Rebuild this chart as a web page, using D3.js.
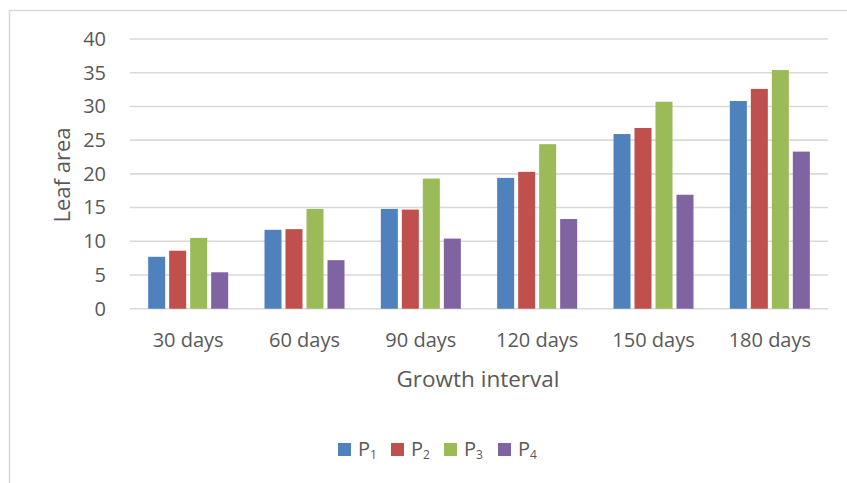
<!DOCTYPE html>
<html>
<head>
<meta charset="utf-8">
<script src="https://cdn.jsdelivr.net/npm/d3@7"></script>
<style>
  html, body { margin: 0; padding: 0; background: #fff; }
  svg { display: block; }
  text { font-family: "Open Sans", Lato, "Liberation Sans", sans-serif; fill: #595959; }
</style>
</head>
<body>
<svg id="chart" width="847" height="483"></svg>
<script>
const categories = ["30 days", "60 days", "90 days", "120 days", "150 days", "180 days"];
const seriesNames = ["1", "2", "3", "4"];
const P1 = [7.7, 11.7, 14.8, 19.4, 25.9, 30.8];
const P2 = [8.6, 11.8, 14.7, 20.3, 26.8, 32.6];
const P3 = [10.5, 14.8, 19.3, 24.4, 30.7, 35.4];
const P4 = [5.4, 7.2, 10.4, 13.3, 16.9, 23.3];
const yTicks = [0, 5, 10, 15, 20, 25, 30, 35, 40];
const colors = ["#4F81BD", "#C0504D", "#9BBB59", "#8064A2"];
const seriesValues = [P1, P2, P3, P4];

const svg = d3.select("#chart");

// outer chart border (top and left visible)
svg.append("path")
  .attr("d", "M9.5,483 L9.5,10.5 L847,10.5")
  .attr("fill", "none").attr("stroke", "#D9D9D9").attr("stroke-width", 1.5);

const plotLeft = 130, plotRight = 828, plotTop = 39, plotBottom = 308.7;

const y = d3.scaleLinear().domain([0, 40]).range([plotBottom, plotTop]);
const x0 = d3.scaleBand().domain(categories).range([plotLeft, plotRight]).paddingInner(0).paddingOuter(0);
const groupW = 84;
const x1 = d3.scaleBand().domain(seriesNames)
  .range([(x0.bandwidth() - groupW) / 2, (x0.bandwidth() + groupW) / 2])
  .paddingInner(0.19).paddingOuter(0.095);

// gridlines
svg.append("g").selectAll("line").data(yTicks).join("line")
  .attr("x1", plotLeft).attr("x2", plotRight)
  .attr("y1", d => y(d)).attr("y2", d => y(d))
  .attr("stroke", "#D9D9D9").attr("stroke-width", 1.6);

// y tick labels
const yAxis = d3.axisLeft(y).tickValues(yTicks).tickSize(0).tickPadding(0);
const gy = svg.append("g").attr("transform", "translate(106,0)").call(yAxis);
gy.select(".domain").remove();
gy.selectAll("text").attr("font-size", 20).attr("fill", "#595959")
  .attr("font-family", "'Open Sans', Lato, sans-serif");

// bars
const groups = svg.append("g").selectAll("g").data(categories).join("g")
  .attr("transform", d => `translate(${x0(d)},0)`);
groups.selectAll("rect")
  .data((c, i) => seriesNames.map((s, k) => ({ s, k, v: seriesValues[k][i] })))
  .join("rect")
  .attr("x", d => x1(d.s))
  .attr("width", x1.bandwidth())
  .attr("y", d => y(d.v))
  .attr("height", d => y(0) - y(d.v))
  .attr("fill", d => colors[d.k]);

// x category labels
const xAxis = d3.axisBottom(x0).tickSize(0).tickPadding(0);
const gx = svg.append("g").attr("transform", `translate(0,${plotBottom + 31})`).call(xAxis);
gx.select(".domain").remove();
gx.selectAll("text").attr("font-size", 20).attr("fill", "#595959")
  .attr("font-family", "'Open Sans', Lato, sans-serif").attr("dy", "0.35em");

// axis titles
svg.append("text").attr("x", (plotLeft + plotRight) / 2 - 1).attr("y", 387)
  .attr("text-anchor", "middle").attr("font-size", 22.5).text("Growth interval");
svg.append("text").attr("transform", "translate(70,175) rotate(-90)")
  .attr("text-anchor", "middle").attr("font-size", 22).text("Leaf area");

// legend
const legendX = [338, 391, 444, 498];
const lg = svg.append("g").selectAll("g").data(seriesNames).join("g")
  .attr("transform", (d, i) => `translate(${legendX[i]},443)`);
lg.append("rect").attr("width", 13).attr("height", 13).attr("fill", (d, i) => colors[i]);
const lt = lg.append("text").attr("x", 20).attr("y", 13).attr("font-size", 20);
lt.append("tspan").text("P");
lt.append("tspan").attr("font-size", 12).attr("dy", 3).text(d => d);
</script>
</body>
</html>
